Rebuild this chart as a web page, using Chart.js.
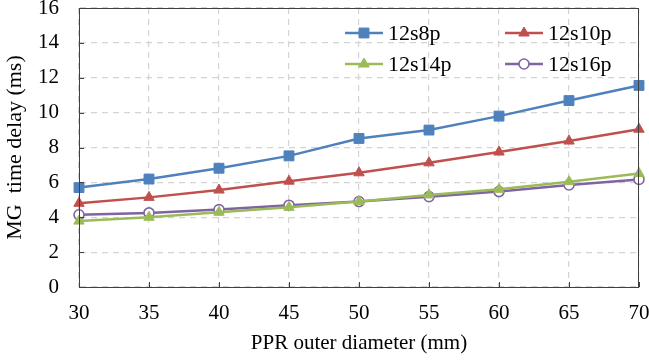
<!DOCTYPE html>
<html>
<head>
<meta charset="utf-8">
<script src="https://cdn.jsdelivr.net/npm/chart.js@4/dist/chart.umd.min.js"></script>
<style>
  html, body { margin: 0; padding: 0; background: #fff; }
  #wrap { width: 649px; height: 360px; }
</style>
</head>
<body>
<div id="wrap"><canvas id="chart" width="649" height="360"></canvas></div>
<script>
// PPR outer diameter (mm)
const diameters = [30, 35, 40, 45, 50, 55, 60, 65, 70];

// MG time delay (ms) per configuration
const s8p  = [5.70, 6.19, 6.81, 7.52, 8.52, 9.00, 9.80, 10.69, 11.56];
const s10p = [4.80, 5.14, 5.56, 6.07, 6.55, 7.12, 7.74, 8.37, 9.05];
const s14p = [3.78, 4.00, 4.29, 4.57, 4.90, 5.28, 5.60, 6.04, 6.51];
const s16p = [4.14, 4.25, 4.44, 4.69, 4.90, 5.18, 5.47, 5.85, 6.17];

const seriesNames = ['12s8p', '12s10p', '12s14p', '12s16p'];
const xTitle = 'PPR outer diameter (mm)';
const yTitle = 'MG  time delay (ms)';

const FONT = '"Liberation Serif", "Times New Roman", serif';

const toPoints = (vals) => vals.map((v, i) => ({ x: diameters[i], y: v }));

const makeSet = (label, vals, color, style, radius, fill) => ({
    label,
    data: toPoints(vals),
    borderColor: color,
    backgroundColor: fill,
    borderWidth: 2.5,
    pointStyle: style,
    pointRadius: radius,
    pointHoverRadius: radius,
    pointBorderColor: color,
    pointBackgroundColor: fill,
    pointBorderWidth: style === 'circle' ? 1.6 : 1,
    tension: 0,
    fill: false,
    clip: false,
});

// legend drawn inside the plot, two columns
const innerLegend = {
    id: 'innerLegend',
    afterDatasetsDraw(chart) {
        const ctx = chart.ctx;
        const spots = [[345, 33], [505, 33], [345, 64], [505, 64]];
        chart.data.datasets.forEach((ds, i) => {
            const [x, y] = spots[i];
            ctx.save();
            ctx.strokeStyle = ds.borderColor;
            ctx.lineWidth = 2.5;
            ctx.beginPath();
            ctx.moveTo(x, y);
            ctx.lineTo(x + 38, y);
            ctx.stroke();
            ctx.fillStyle = ds.pointBackgroundColor;
            ctx.strokeStyle = ds.pointBorderColor;
            ctx.lineWidth = ds.pointBorderWidth;
            Chart.helpers.drawPoint(ctx, {
                pointStyle: ds.pointStyle,
                radius: ds.pointRadius,
                borderWidth: ds.pointBorderWidth,
                rotation: 0,
            }, x + 19, y);
            ctx.fillStyle = '#000';
            ctx.font = '22px ' + FONT;
            ctx.textAlign = 'left';
            ctx.textBaseline = 'middle';
            ctx.fillText(ds.label, x + 43, y + 1);
            ctx.restore();
        });
    }
};

// box around the plot area, with short inward tick marks
const frame = {
    id: 'frame',
    afterDraw(chart) {
        const { left, top, right, bottom } = chart.chartArea;
        const ctx = chart.ctx;
        const xs = chart.scales.x;
        const ys = chart.scales.y;
        ctx.save();
        ctx.strokeStyle = '#404040';
        ctx.lineWidth = 1;
        ctx.strokeRect(left + 0.5, top + 0.5, right - left - 1, bottom - top);
        ctx.beginPath();
        xs.ticks.forEach((t) => {
            const px = Math.round(xs.getPixelForValue(t.value)) + 0.5;
            ctx.moveTo(px, bottom);
            ctx.lineTo(px, bottom - 5);
        });
        ys.ticks.forEach((t) => {
            const py = Math.round(ys.getPixelForValue(t.value)) + 0.5;
            ctx.moveTo(left, py);
            ctx.lineTo(left + 5, py);
        });
        ctx.stroke();
        ctx.restore();
    }
};

new Chart(document.getElementById('chart'), {
    type: 'line',
    data: {
        datasets: [
            makeSet(seriesNames[0], s8p, '#4F81BD', 'rect', 7, '#4F81BD'),
            makeSet(seriesNames[1], s10p, '#C0504D', 'triangle', 6, '#C0504D'),
            makeSet(seriesNames[2], s14p, '#9BBB59', 'triangle', 6, '#9BBB59'),
            makeSet(seriesNames[3], s16p, '#8064A2', 'circle', 5, '#ffffff'),
        ],
    },
    options: {
        responsive: false,
        animation: false,
        layout: { padding: { top: 6, right: 10, left: 0, bottom: 0 } },
        plugins: {
            legend: { display: false },
            tooltip: { enabled: false },
        },
        scales: {
            x: {
                type: 'linear',
                min: 30,
                max: 70,
                afterFit: (s) => { s.height = 73; s.paddingLeft = 0; s.paddingRight = 0; },
                ticks: { stepSize: 5, color: '#000', padding: 14, font: { family: FONT, size: 21 } },
                grid: { color: '#d4d4d4', drawTicks: false, lineWidth: 1.2 },
                border: { dash: [6, 5], color: '#404040' },
                title: { display: true, text: xTitle, color: '#000', font: { family: FONT, size: 21 }, padding: { top: 1 } },
            },
            y: {
                min: 0,
                max: 16,
                afterFit: (s) => { s.width = 79; s.paddingTop = 0; s.paddingBottom = 0; },
                ticks: { stepSize: 2, color: '#000', padding: 20, font: { family: FONT, size: 21 } },
                grid: { color: '#d4d4d4', drawTicks: false, lineWidth: 1.2 },
                border: { dash: [6, 5], color: '#404040' },
                title: { display: true, text: yTitle, color: '#000', font: { family: FONT, size: 22 }, padding: { bottom: 4, top: 2 } },
            },
        },
    },
    plugins: [innerLegend, frame],
});
</script>
</body>
</html>
